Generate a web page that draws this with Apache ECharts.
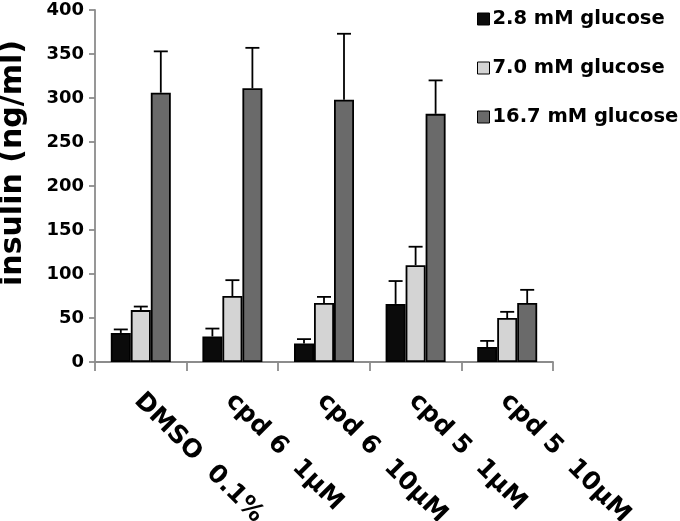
<!DOCTYPE html>
<html>
<head>
<meta charset="utf-8">
<script src="https://cdn.jsdelivr.net/npm/echarts@6/dist/echarts.min.js"></script>
<style>
  html, body { margin: 0; padding: 0; background: #fff; }
  #chart { width: 680px; height: 521px; }
</style>
</head>
<body>
<div id="chart"></div>
<script>
// data
var categories = ['DMSO  0.1%', 'cpd 6  1µM', 'cpd 6  10µM', 'cpd 5  1µM', 'cpd 5  10µM'];
var seriesNames = ['2.8 mM glucose', '7.0 mM glucose', '16.7 mM glucose'];
var low = [33, 29, 21, 66, 17];
var mid = [59, 75, 67, 110, 50];
var high = [306, 311, 298, 282, 67];
// tops of the error bars
var lowTop = [37, 38, 26, 92, 24];
var midTop = [63, 93, 74, 131, 57];
var highTop = [353, 357, 373, 320, 82];
var yTicks = [0, 50, 100, 150, 200, 250, 300, 350, 400];
var yName = 'insulin (ng/ml)';

var colors = ['#0b0b0b', '#d4d4d4', '#6a6a6a'];
var font = 'DejaVu Sans, Verdana, sans-serif';
var BAR_W = 20;

var element = document.getElementById('chart');
var myChart = echarts.init(element);

function errSeries(idx, means, tops) {
    return {
        type: 'custom',
        name: seriesNames[idx],
        z: 1,
        silent: true,
        data: means.map(function (v, i) { return [i, v, tops[i]]; }),
        encode: { x: 0, y: [1, 2] },
        renderItem: function (params, api) {
            var base = api.coord([api.value(0), api.value(1)]);
            var top = api.coord([api.value(0), api.value(2)]);
            var x = base[0] + (idx - 1) * BAR_W;
            return {
                type: 'group',
                children: [
                    { type: 'line', shape: { x1: x, y1: base[1], x2: x, y2: top[1] },
                      style: { stroke: '#000', lineWidth: 1.8 } },
                    { type: 'line', shape: { x1: x - 7, y1: top[1], x2: x + 7, y2: top[1] },
                      style: { stroke: '#000', lineWidth: 1.8 } }
                ]
            };
        }
    };
}

function barSeries(idx, vals) {
    return {
        type: 'bar',
        name: seriesNames[idx],
        data: vals,
        barWidth: BAR_W,
        barGap: '0%',
        z: 3,
        itemStyle: { color: colors[idx], borderColor: '#000', borderWidth: 1.8 }
    };
}

var option = {
    animation: false,
    color: colors,
    grid: { left: 95, right: 127, top: 10, bottom: 159, outerBoundsMode: 'none', containLabel: false },
    graphic: [{
        type: 'text',
        x: 13,
        y: 163,
        rotation: Math.PI / 2,
        style: {
            text: yName,
            font: 'bold 30px ' + font,
            fill: '#000',
            align: 'center',
            verticalAlign: 'middle'
        }
    }],
    legend: {
        data: seriesNames,
        orient: 'vertical',
        left: 472,
        top: 4,
        itemWidth: 12,
        itemHeight: 12,
        itemGap: 29,
        icon: 'rect',
        itemStyle: { borderColor: '#000', borderWidth: 1 },
        textStyle: { fontFamily: font, fontWeight: 'bold', fontSize: 19.5, color: '#000', padding: [0, 0, 0, -2] }
    },
    xAxis: {
        type: 'category',
        data: categories,
        axisLine: { lineStyle: { color: '#8c8c8c', width: 1.8 } },
        axisTick: { show: true, length: 9, lineStyle: { color: '#8c8c8c', width: 1.8 } },
        axisLabel: {
            rotate: -45,
            margin: 38,
            padding: [0, 0, 0, -4],
            fontFamily: font,
            fontWeight: 'bold',
            fontSize: 25,
            color: '#000'
        }
    },
    yAxis: {
        type: 'value',
        min: yTicks[0],
        max: yTicks[yTicks.length - 1],
        interval: 50,
        axisLine: { show: true, lineStyle: { color: '#8c8c8c', width: 1.8 } },
        axisTick: { show: true, length: 6, lineStyle: { color: '#8c8c8c', width: 1.8 } },
        splitLine: { show: false },
        axisLabel: { fontFamily: font, fontWeight: 'bold', fontSize: 18, color: '#000', margin: 11 }
    },
    series: [
        barSeries(0, low), barSeries(1, mid), barSeries(2, high),
        errSeries(0, low, lowTop), errSeries(1, mid, midTop), errSeries(2, high, highTop)
    ]
};

myChart.setOption(option);

window.addEventListener('resize', function () {
    myChart.resize();
});
</script>
</body>
</html>
